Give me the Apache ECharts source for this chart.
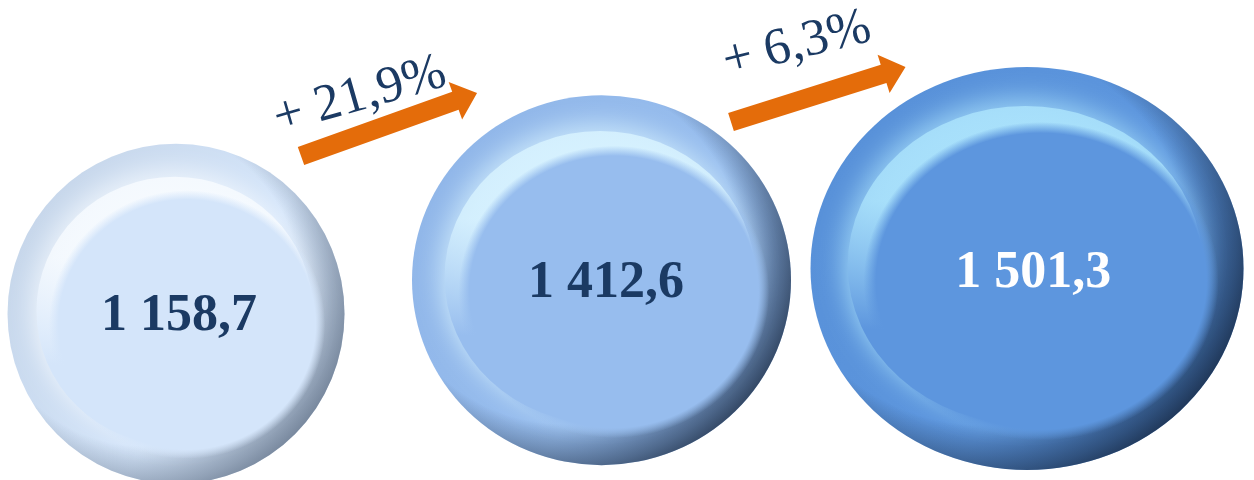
<!DOCTYPE html>
<html><head><meta charset="utf-8">
<script src="https://cdn.jsdelivr.net/npm/echarts@6/dist/echarts.min.js"></script>
<style>html,body{margin:0;padding:0;background:#fff}#c{width:1254px;height:480px}</style>
</head><body><div id="c"></div>
<script>
// ---- data ----
const categories = ['Period 1', 'Period 2', 'Period 3'];
const values = [1158.7, 1412.6, 1501.3];

// ---- styles ----
const bubbleSizes = [[337, 340], [379, 370], [433, 403]];
const palette = [
  {edge: '#c4d4e8', base: '#d4e5fa', light: '#f7fbff', rim: '#b4c4d8', dark: '#66768c', text: '#1b3a63'},
  {edge: '#8fb5e8', base: '#97bdee', light: '#d8f3ff', rim: '#7ca2d6', dark: '#1f2f46', text: '#1b3a63'},
  {edge: '#5790d8', base: '#5d96de', light: '#abe3fc', rim: '#4a7fc4', dark: '#14243c', text: '#ffffff'}
];
const arrowColor = '#e46c0a';
const textColor = '#1b3a63';

function fmt(v) {
  const parts = v.toFixed(1).split('.');
  return parts[0].replace(/\B(?=(\d{3})+(?!\d))/g, ' ') + ',' + parts[1];
}
function rgba(hex, a) {
  const n = parseInt(hex.slice(1), 16);
  return 'rgba(' + ((n >> 16) & 255) + ',' + ((n >> 8) & 255) + ',' + (n & 255) + ',' + a + ')';
}
const growth = values.slice(1).map((v, i) => '+ ' + ((v / values[i] - 1) * 100).toFixed(1).replace('.', ',') + '%');

function layer(kind) {
  return values.map((v, i) => {
    const p = palette[i];
    const s = bubbleSizes[i];
    const inner = [s[0] * 0.82, s[1] * 0.79];
    let item = {value: [categories[i], v]};
    if (kind === 'outer') {
      item.symbolSize = s;
      item.itemStyle = {opacity: 1, color: {type: 'linear', x: 0, y: 0.2, x2: 1, y2: 0.8, colorStops: [
        {offset: 0, color: p.edge}, {offset: 0.6, color: p.base}, {offset: 1, color: p.rim}]}};
    } else if (kind === 'shade') {
      item.symbolSize = s;
      item.itemStyle = {opacity: 1, color: {type: 'radial', x: 0.4, y: 0.42, r: 0.65, colorStops: [
        {offset: 0.72, color: rgba(p.dark, 0)}, {offset: 0.9, color: rgba(p.dark, 0.55)},
        {offset: 1, color: rgba(p.dark, 0.9)}]}};
    } else if (kind === 'glow') {
      item.symbolSize = inner;
      item.itemStyle = {opacity: 1, shadowBlur: 26, shadowColor: rgba(p.light, 0.9),
        shadowOffsetX: -4, shadowOffsetY: -7,
        color: {type: 'linear', x: 0, y: 0, x2: 0, y2: 1, colorStops: [
          {offset: 0, color: rgba(p.light, 0.85)}, {offset: 0.3, color: rgba(p.light, 0.8)},
          {offset: 0.7, color: p.base}, {offset: 1, color: p.base}]}};
    } else {
      item.symbolSize = inner;
      item.itemStyle = {opacity: 1, color: {type: 'radial', x: 0.5, y: 0.5, r: 0.5, colorStops: [
        {offset: 0, color: p.base}, {offset: 0.93, color: p.base}, {offset: 1, color: rgba(p.base, 0)}]}};
      item.label = {color: p.text};
    }
    return item;
  });
}

function arrow(x, y, len, deg) {
  const hw = 9.5, hh = 20, hl = 23;
  return {type: 'polygon', x: x, y: y, rotation: deg * Math.PI / 180, silent: true, z: 100,
    shape: {points: [[0, -hw], [len - hl, -hw], [len - hl, -hh], [len, 0], [len - hl, hh], [len - hl, hw], [0, hw]]},
    style: {fill: arrowColor}};
}
function gtext(x, y, deg, txt) {
  return {type: 'text', x: x, y: y, rotation: deg * Math.PI / 180, silent: true, z: 100,
    style: {text: txt, font: '52px "Liberation Serif", "Times New Roman", serif', fill: textColor,
      align: 'center', verticalAlign: 'middle', textAlign: 'center', textVerticalAlign: 'middle'}};
}

const base = {type: 'scatter', symbol: 'circle', silent: true, clip: false, itemStyle: {opacity: 1}};
const chart = echarts.init(document.getElementById('c'), null, {renderer: 'canvas'});
chart.setOption({
  animation: false,
  backgroundColor: '#ffffff',
  grid: {left: 176, width: 851, top: 4, height: 463, containLabel: false},
  xAxis: {type: 'category', data: categories, show: false, boundaryGap: false},
  yAxis: {type: 'value', min: 0, max: 3500, show: false},
  series: [
    Object.assign({}, base, {data: layer('outer'), z: 1}),
    Object.assign({}, base, {data: layer('shade'), z: 2}),
    Object.assign({}, base, {symbolOffset: ['-0.5%', '-1%'], data: layer('glow'), z: 3}),
    Object.assign({}, base, {symbolOffset: ['4%', '4%'], data: layer('inner'), z: 4,
      label: {show: true, position: 'inside', offset: [-8, -8], formatter: p => fmt(p.value[1]),
        fontFamily: '"Liberation Serif", "Times New Roman", serif', fontWeight: 'bold', fontSize: 52}})
  ],
  graphic: [
    arrow(301, 156, 187, 19.7),
    arrow(731, 122, 183, 17.5),
    gtext(360, 96, 16, growth[0]),
    gtext(797, 45, 14, growth[1])
  ]
});
</script></body></html>
